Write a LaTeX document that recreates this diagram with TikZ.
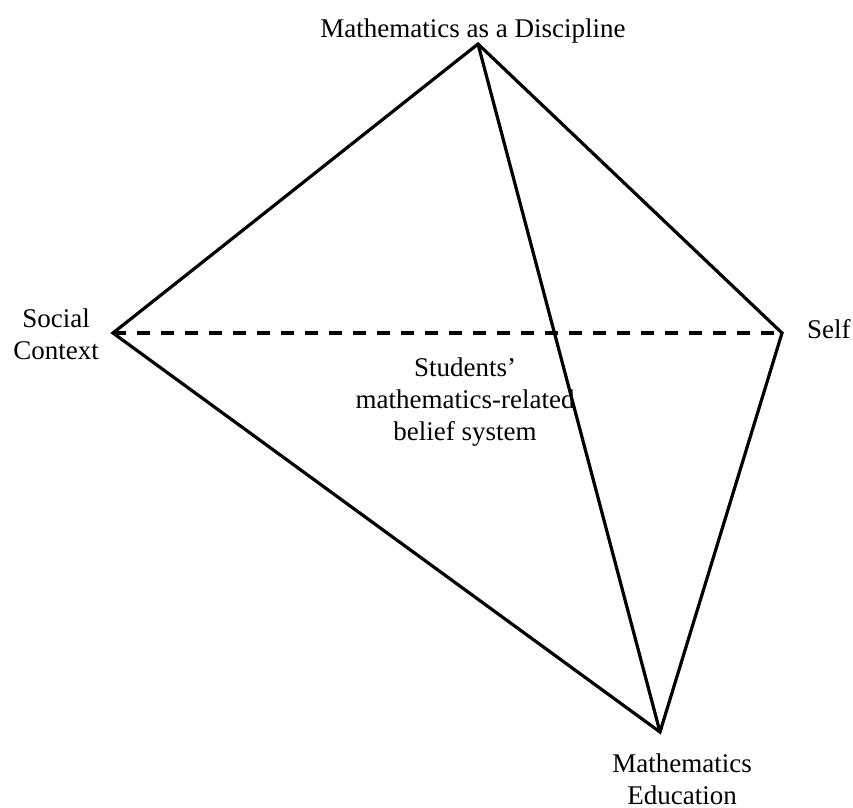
\documentclass[tikz,border=0pt]{standalone}
\usepackage{fontspec}
\setmainfont{Liberation Serif}
\usetikzlibrary{math}

\begin{document}
\begin{tikzpicture}[x=1pt, y=-1pt]

% Position settings
\tikzmath{
    \MidY = 333;
    \LeftX = 113;
    \RightX = 782;
}

\useasboundingbox (0,0) rectangle (853,807);

\coordinate (Discipline) at (478, 44);
\coordinate (Social) at (\LeftX, \MidY);
\coordinate (Self) at (\RightX, \MidY);
\coordinate (Education) at (660, 732);

\begin{scope}[line width=3.2pt, line join=miter, black]

    % Outer edges
    \draw (Social) -- (Discipline) -- (Self) -- (Education) -- cycle;

    % Front edge
    \draw (Discipline) -- (Education);

    % Hidden edge
    \draw [dash pattern=on 13pt off 11pt] (Social) -- (Self);
\end{scope}

% Labels
\begin{scope}[font=\fontsize{27}{32}\selectfont, align=center, inner sep=0pt]
    \node [anchor=base] (DisciplineLabel) at (473, 37) {Mathematics as a Discipline};
    \node (SocialLabel) at (56, 334) {Social\\Context};
    \node [anchor=base west] (SelfLabel) at (807, 338) {Self};
    \node (BeliefLabel) at (465, 402) {Students'\\mathematics-related\\belief system};
    \node (EducationLabel) at (682, 779) {Mathematics\\Education};
\end{scope}

\end{tikzpicture}
\end{document}
